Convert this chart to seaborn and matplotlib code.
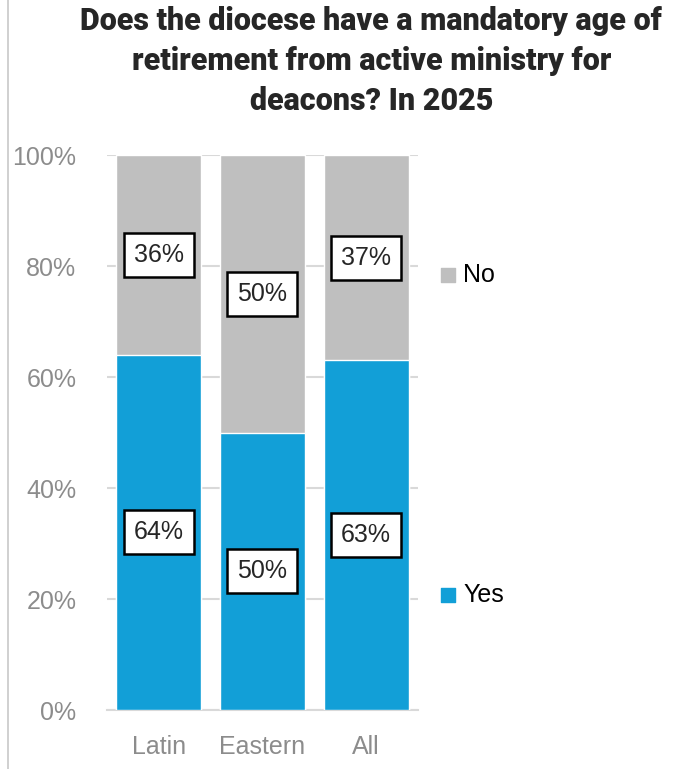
import numpy as np
import pandas as pd
import matplotlib.pyplot as plt
import seaborn as sns
from matplotlib.lines import Line2D

# chart data
categories = ['Latin', 'Eastern', 'All']
yes_pct = [64, 50, 63]
no_pct = [36, 50, 37]
y_ticks = [0, 20, 40, 60, 80, 100]

BLUE = '#129FD7'
GRAY = '#BFBFBF'
GRID = '#D9D9D9'
TICK_TXT = '#8C8C8C'

df = pd.DataFrame({'cat': categories, 'Yes': yes_pct, 'No': no_pct})
df['total'] = df['Yes'] + df['No']

sns.set_style('white')
plt.rcParams['font.family'] = ['Liberation Sans', 'DejaVu Sans']

fig = plt.figure(figsize=(6.75, 7.69), dpi=100)
ax = fig.add_axes([0.1585, 0.0767, 0.4607, 0.7217])

# stacked bars: full height in gray, "Yes" part in blue on top of it
sns.barplot(data=df, x='cat', y='total', color=GRAY, width=0.82,
            saturation=1, ax=ax, zorder=2)
sns.barplot(data=df, x='cat', y='Yes', color=BLUE, width=0.82,
            saturation=1, ax=ax, zorder=3)

ax.set_xlim(-0.5, len(categories) - 0.5)
ax.set_ylim(0, 100)
ax.set_yticks(y_ticks)
ax.set_yticklabels([f'{t}%' for t in y_ticks], fontsize=18, color=TICK_TXT)
ax.set_xlabel('')
ax.set_ylabel('')
ax.tick_params(axis='x', length=0, labelsize=18, labelcolor=TICK_TXT, pad=18)
ax.tick_params(axis='y', length=0, pad=22)
ax.set_xticks(np.arange(-0.5, len(categories)), minor=True)
ax.tick_params(axis='x', which='minor', length=9, width=1.5, color=GRID)
ax.yaxis.grid(True, color=GRID, linewidth=1.5, zorder=0)
ax.set_axisbelow(True)
for s in ['top', 'right', 'left']:
    ax.spines[s].set_visible(False)
ax.spines['bottom'].set_color(GRID)
ax.spines['bottom'].set_linewidth(1.5)
ax.spines['bottom'].set_zorder(1)

# data labels in boxed text
box = dict(boxstyle='square,pad=0.4', fc='white', ec='black', lw=1.8)
for i, (y, n) in enumerate(zip(yes_pct, no_pct)):
    ax.text(i, y / 2, f'{y}%', ha='center', va='center', fontsize=18,
            bbox=box, zorder=5)
    ax.text(i, y + n / 2, f'{n}%', ha='center', va='center', fontsize=18,
            bbox=box, zorder=5)

# legend entries placed beside the chart
for name, ypos, col in [('No', 0.784, GRAY), ('Yes', 0.207, BLUE)]:
    ax.scatter([1.095], [ypos], marker='s', s=100, color=col,
               transform=ax.transAxes, clip_on=False)
    ax.text(1.145, ypos, name, transform=ax.transAxes, va='center',
            ha='left', fontsize=18, color='black')

fig.text(0.55, 0.992, 'Does the diocese have a mandatory age of\n'
         'retirement from active ministry for\ndeacons? In 2025',
         ha='center', va='top', fontsize=22, fontweight='heavy',
         family=['Roboto', 'DejaVu Sans'], linespacing=1.42)

fig.add_artist(Line2D([0.012, 0.012], [0, 1], color='#C8C8C8', lw=1.2,
                      transform=fig.transFigure))

fig.savefig('out.png', dpi=100)
